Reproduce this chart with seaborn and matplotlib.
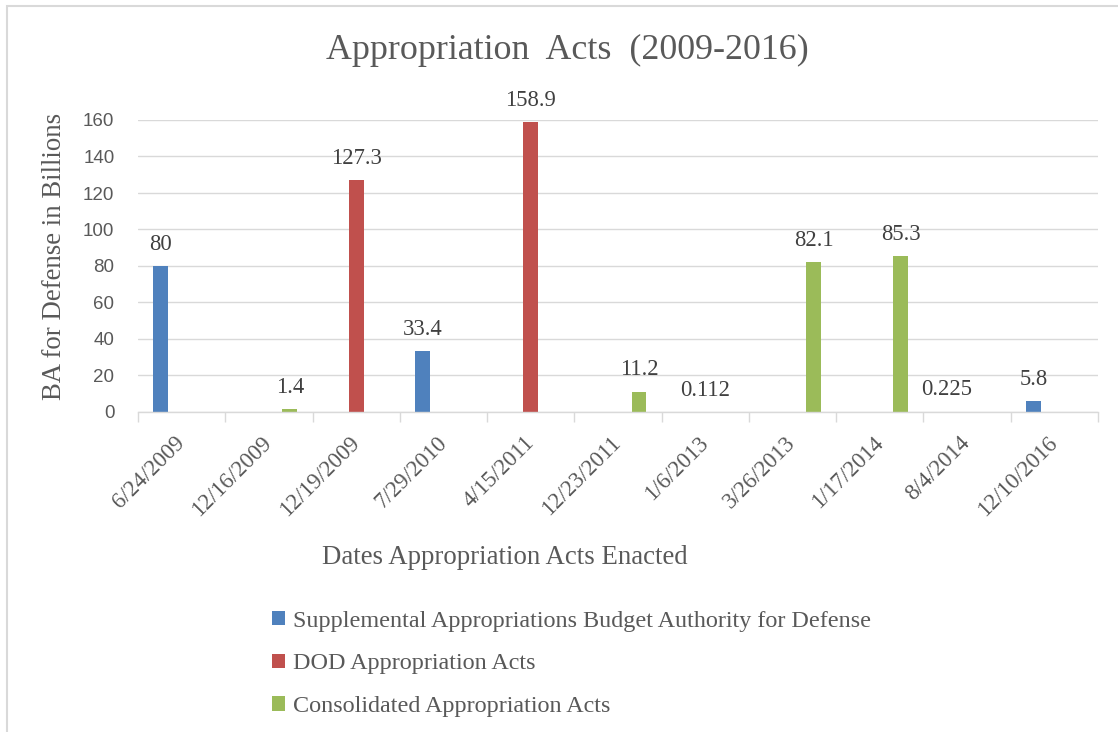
import matplotlib
matplotlib.use("Agg")
import matplotlib.pyplot as plt
from matplotlib.patches import Patch, Rectangle
from matplotlib.ticker import FixedLocator
import seaborn as sns
import pandas as pd

# ---- data ----
dates = ["6/24/2009", "12/16/2009", "12/19/2009", "7/29/2010", "4/15/2011",
         "12/23/2011", "1/6/2013", "3/26/2013", "1/17/2014", "8/4/2014", "12/10/2016"]
series = ["Supplemental Appropriations Budget Authority for Defense",
          "DOD Appropriation Acts",
          "Consolidated Appropriation Acts"]
supplemental = [80, 0, 0, 33.4, 0, 0, 0, 0, 0, 0.225, 5.8]
dod = [0, 0, 127.3, 0, 158.9, 0, 0.112, 0, 0, 0, 0]
consolidated = [0, 1.4, 0, 0, 0, 11.2, 0, 82.1, 85.3, 0, 0]
colors = ["#4F81BD", "#C0504D", "#9BBB59"]

values = {series[0]: supplemental, series[1]: dod, series[2]: consolidated}
rows = []
for s in series:
    for d, v in zip(dates, values[s]):
        rows.append({"date": d, "series": s, "value": v})
df = pd.DataFrame(rows)

sns.set_theme(style="white")
serif = ["Liberation Serif", "DejaVu Serif"]
plt.rcParams["font.family"] = serif
txt = "#595959"

fig = plt.figure(figsize=(11.18, 7.32), dpi=100)
ax = fig.add_axes([138 / 1118, 1 - 412 / 732, (1098 - 138) / 1118, (412 - 120) / 732])

sns.barplot(data=df, x="date", y="value", hue="series", order=dates,
            hue_order=series, palette=colors, saturation=1, width=0.72, gap=0.29,
            linewidth=0, legend=False, ax=ax, errorbar=None)

for cont, s in zip(ax.containers, series):
    labels = [("%g" % v) if v != 0 else "" for v in values[s]]
    ax.bar_label(cont, labels=labels, padding=8, fontsize=16.3, color="#404040",
                 family=serif)

ax.set_xlim(-0.5, len(dates) - 0.5)
ax.set_ylim(0, 160)
ax.set_yticks(range(0, 161, 20))
ax.yaxis.grid(True, color="#d9d9d9", linewidth=1)
ax.set_axisbelow(True)
for side in ["left", "right", "top"]:
    ax.spines[side].set_visible(False)
ax.spines["bottom"].set_color("#d9d9d9")
ax.spines["bottom"].set_linewidth(1)

ax.tick_params(axis="y", length=0, pad=17, labelcolor=txt, labelsize=13.5)
for lab in ax.get_yticklabels():
    lab.set_family(["Liberation Sans", "DejaVu Sans"])
    lab.set_horizontalalignment("right")

ax.xaxis.set_minor_locator(FixedLocator([i - 0.5 for i in range(len(dates) + 1)]))
ax.tick_params(axis="x", which="minor", length=7, width=1, color="#d9d9d9", bottom=True)
ax.tick_params(axis="x", which="major", length=0, pad=20, labelsize=16.5, labelcolor=txt)
ax.set_xticks(range(len(dates)))
ax.set_xticklabels(dates, rotation=45, ha="right", va="center", rotation_mode="anchor")

ax.set_xlabel("")
ax.set_ylabel("")
fig.text(55 / 1118, 1 - 256 / 732, "BA for Defense in Billions", rotation=90,
         ha="center", va="center", fontsize=19.3, color=txt)
fig.text(505 / 1118, 1 - 557 / 732, "Dates Appropriation Acts Enacted",
         ha="center", va="center", fontsize=19.3, color=txt)
fig.text(567 / 1118, 1 - 50 / 732, "Appropriation  Acts  (2009-2016)",
         ha="center", va="center", fontsize=25.8, color=txt)

handles = [Patch(facecolor=c, edgecolor="none") for c in colors]
fig.legend(handles, series, loc="upper left", bbox_to_anchor=(262 / 1118, 1 - 601 / 732),
           frameon=False, fontsize=17.4, labelcolor=txt, handlelength=0.55,
           handleheight=0.55, handletextpad=0.35, labelspacing=0.9, borderaxespad=0)

fig.patches.append(Rectangle((7 / 1118, -0.05), 1.1, 1 - 6 / 732 + 0.05,
                             transform=fig.transFigure, fill=False,
                             edgecolor="#d9d9d9", linewidth=1.5))

fig.savefig("out.png", dpi=100, facecolor="white")
